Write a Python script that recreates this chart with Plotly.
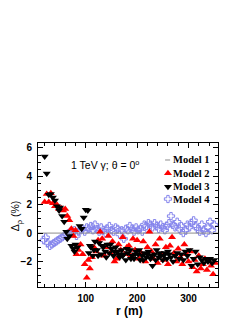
import plotly.graph_objects as go

# ---- data ----
r1 = [7, 357.5]
v1 = [0, 0]

r2 = [20, 24, 28, 32, 36, 40, 44, 48, 52, 56,
      60, 64, 68, 72, 76, 80, 82, 86, 90, 94,
      98, 102, 105, 108, 112, 116, 120, 124, 128, 132,
      136, 140, 144, 148, 152, 156, 160, 164, 168, 172,
      176, 180, 184, 188, 192, 196, 200, 204, 208, 212,
      216, 220, 224, 228, 232, 236, 240, 244, 248, 252,
      256, 260, 264, 268, 272, 276, 280, 284, 288, 292,
      296, 300, 304, 308, 312, 316, 320, 324, 328, 332,
      336, 340, 344, 348, 352]
v2 = [2.2, 2.75, 2.2, 2.8, 2.1, 1.9, 2.0, 1.7, 1.75, 1.6,
      1.7, 1.2, 0.9, 0.3, -0.2, 0.2, -1.5, -1.2, -0.8, -1.5,
      -2.2, -3.15, -1.9, -2.5, -1.7, -1.0, -1.3, -0.5, 0.1, -0.4,
      -1.6, -1.0, -0.2, -1.4, -0.6, -2.0, -1.8, -0.8, -1.2, -0.3,
      -1.5, -1.0, -0.9, -1.6, -0.4, -1.2, -0.5, -1.8, -1.4, -0.6,
      -2.0, -1.0, 0.1, -1.3, -1.8, -0.8, -2.1, -0.4, -1.5, -1.9,
      -1.0, -2.2, -0.9, -0.3, -1.4, -2.0, -1.1, -1.7, -2.2, -0.8,
      -1.5, -2.0, -1.3, -2.4, -1.9, -2.7, -1.6, -2.5, -2.2, -1.8,
      -2.6, -2.0, -2.3, -2.9, -2.1]

r3 = [20, 24, 28, 32, 36, 40, 44, 48, 50, 54,
      58, 62, 64, 68, 72, 76, 78, 80, 84, 88,
      92, 96, 100, 104, 106, 108, 110, 114, 116, 118,
      122, 124, 126, 130, 132, 134, 138, 140, 142, 146,
      148, 150, 154, 156, 158, 162, 164, 166, 170, 172,
      174, 178, 180, 182, 186, 188, 190, 194, 196, 198,
      202, 204, 206, 210, 212, 214, 218, 220, 222, 226,
      228, 230, 234, 236, 238, 242, 244, 246, 250, 252,
      254, 258, 260, 262, 266, 270, 274, 278, 282, 286,
      290, 294, 298, 302, 306, 310, 314, 318, 322, 326,
      330, 334, 338, 342, 346, 350]
v3 = [5.4, 4.2, 2.7, 2.75, 2.5, 2.3, 1.9, 1.6, 1.8, 1.2,
      0.8, 0.1, -0.4, -0.2, -0.9, -1.1, -1.3, -0.8, -1.0, 0.5,
      0.3, 1.1, 1.65, 1.6, -1.4, -0.9, -1.0, -1.6, -1.2, -0.6,
      -1.2, -1.6, -0.7, -1.5, -0.9, -1.0, -1.3, -1.7, -0.8, -1.4,
      -0.8, -1.1, -1.6, -1.3, -1.0, -1.3, -1.5, -1.7, -1.2, -1.6,
      -1.5, -1.9, -1.1, -1.4, -1.2, -1.8, -1.6, -1.8, -1.5, -1.3,
      -1.5, -1.2, -1.9, -1.6, -1.9, -1.4, -1.7, -1.5, -1.3, -1.8,
      -1.6, -2.3, -1.5, -1.9, -1.2, -1.7, -1.4, -1.6, -1.9, -1.6,
      -1.4, -1.8, -1.3, -1.5, -1.7, -2.0, -1.6, -1.4, -1.8, -1.5,
      -1.9, -1.3, -1.6, -1.2, -2.3, -1.8, -1.3, -2.2, -1.7, -1.9,
      -2.1, -1.8, -2.0, -1.8, -2.1, -1.9]

r4 = [18, 22, 26, 30, 34, 38, 42, 46, 50, 54,
      58, 62, 66, 70, 74, 78, 82, 86, 90, 94,
      98, 102, 106, 110, 114, 118, 122, 126, 130, 134,
      138, 142, 146, 150, 154, 158, 162, 166, 170, 174,
      178, 182, 186, 190, 194, 198, 202, 206, 210, 214,
      218, 222, 226, 230, 234, 238, 242, 246, 250, 254,
      258, 262, 266, 270, 274, 278, 282, 286, 290, 294,
      298, 302, 306, 310, 314, 318, 322, 326, 330, 334,
      338, 342, 346, 350]
v4 = [-0.5, -0.3, -0.7, -0.9, -0.8, -0.7, -0.6, -0.5, -0.4, -0.3,
      -0.2, -0.1, 0.0, 0.1, 0.0, 0.2, -0.2, 0.1, 0.2, 0.3,
      0.1, 0.4, 0.3, 0.5, 0.2, 0.6, 0.3, 0.1, 0.4, 0.2,
      0.0, 0.3, 0.5, 0.2, 0.1, 0.4, 0.3, -0.1, 0.2, -0.4,
      0.3, 0.2, 0.5, 0.3, 0.1, 0.4, 0.2, 0.3, 0.1, 0.6,
      0.5, 0.7, 0.6, 0.4, 0.7, 0.5, 0.3, 0.6, 0.4, 0.2,
      0.5, 0.7, 1.2, 0.6, 0.4, 0.8, 0.3, 0.5, 0.0, 0.2,
      0.6, 0.4, 0.7, 0.9, 0.5, 0.3, 0.1, 0.6, 0.2, 0.0,
      0.4, 0.8, 0.2, 0.6]

names = ["Model 1", "Model 2", "Model 3", "Model 4"]
x_ticks = [100, 200, 300]
y_ticks = [-2, 0, 2, 4, 6]

RED = "#ff0000"
BLK = "#000000"
BLU = "#8585ec"
GRY = "#8c8c8c"

fig = go.Figure()
fig.add_trace(go.Scatter(x=r4, y=v4, mode="markers", showlegend=False,
                         marker=dict(symbol="cross-open", size=6, color=BLU,
                                     line=dict(width=1, color=BLU))))
fig.add_trace(go.Scatter(x=r1, y=v1, mode="lines", showlegend=False,
                         line=dict(color=GRY, width=1)))
fig.add_trace(go.Scatter(x=r2, y=v2, mode="markers", showlegend=False,
                         marker=dict(symbol="triangle-up", size=7, color=RED,
                                     line=dict(width=0))))
fig.add_trace(go.Scatter(x=r3, y=v3, mode="markers", showlegend=False,
                         marker=dict(symbol="triangle-down", size=7, color=BLK,
                                     line=dict(width=0))))

# ---- custom legend (on a hidden overlay axis in [0,1]) ----
lx = 0.722
ly = [0.882, 0.790, 0.697, 0.611]
fig.add_trace(go.Scatter(x=[lx - 0.016, lx + 0.012], y=[ly[0], ly[0]], mode="lines",
                         xaxis="x2", yaxis="y2", showlegend=False,
                         line=dict(color=GRY, width=1)))
fig.add_trace(go.Scatter(x=[lx], y=[ly[1]], mode="markers", xaxis="x2", yaxis="y2",
                         showlegend=False,
                         marker=dict(symbol="triangle-up", size=7, color=RED, line=dict(width=0))))
fig.add_trace(go.Scatter(x=[lx], y=[ly[2]], mode="markers", xaxis="x2", yaxis="y2",
                         showlegend=False,
                         marker=dict(symbol="triangle-down", size=7, color=BLK, line=dict(width=0))))
fig.add_trace(go.Scatter(x=[lx], y=[ly[3]], mode="markers", xaxis="x2", yaxis="y2",
                         showlegend=False,
                         marker=dict(symbol="cross-open", size=6, color=BLU,
                                     line=dict(width=1, color=BLU))))

annotations = []
for name, yy in zip(names, ly):
    annotations.append(dict(x=0.738, y=yy, xref="paper", yref="paper", text=name,
                            showarrow=False, xanchor="left", yanchor="middle",
                            font=dict(family="Liberation Serif", size=10.5,
                                      weight="bold", color="black")))
annotations.append(dict(x=0.172, y=0.854, xref="paper", yref="paper",
                        text="1 TeV γ; θ = 0<sup>o</sup>", showarrow=False,
                        xanchor="left", yanchor="middle",
                        font=dict(family="Liberation Sans", size=10.5, color="black")))
annotations.append(dict(x=-0.118, y=0.49, xref="paper", yref="paper",
                        text="Δ<sub>ρ</sub> (%)", showarrow=False, textangle=-90,
                        xanchor="center", yanchor="middle",
                        font=dict(family="Liberation Sans", size=10.5, color="black")))
annotations.append(dict(x=0.51, y=-0.165, xref="paper", yref="paper",
                        text="r (m)", showarrow=False,
                        xanchor="center", yanchor="middle",
                        font=dict(family="Liberation Sans", size=12, weight="bold",
                                  color="black")))

tickfont = dict(family="Liberation Sans", size=10, weight="bold", color="black")
fig.update_layout(
    width=239, height=311,
    margin=dict(l=30, r=29, t=135, b=32),
    paper_bgcolor="white", plot_bgcolor="white",
    annotations=annotations,
    xaxis=dict(range=[7, 357.5], tickvals=x_ticks, ticks="inside", ticklen=5,
               tickcolor="black", tickwidth=1, showgrid=False, zeroline=False,
               showline=True, linecolor="black", linewidth=1, mirror="allticks",
               tickfont=tickfont, ticklabelstandoff=2,
               minor=dict(dtick=20, tick0=0, ticks="inside", ticklen=3,
                          tickcolor="black", showgrid=False)),
    yaxis=dict(range=[-3.8, 6.35], tickvals=y_ticks, ticks="inside", ticklen=5,
               tickcolor="black", tickwidth=1, showgrid=False, zeroline=False,
               showline=True, linecolor="black", linewidth=1, mirror="allticks",
               tickfont=tickfont, ticklabelstandoff=3,
               minor=dict(dtick=0.5, tick0=0, ticks="inside", ticklen=3,
                          tickcolor="black", showgrid=False)),
    xaxis2=dict(range=[0, 1], overlaying="x", visible=False, anchor="y2"),
    yaxis2=dict(range=[0, 1], overlaying="y", visible=False, anchor="x2"),
    showlegend=False,
)

fig.write_html("out.html")
